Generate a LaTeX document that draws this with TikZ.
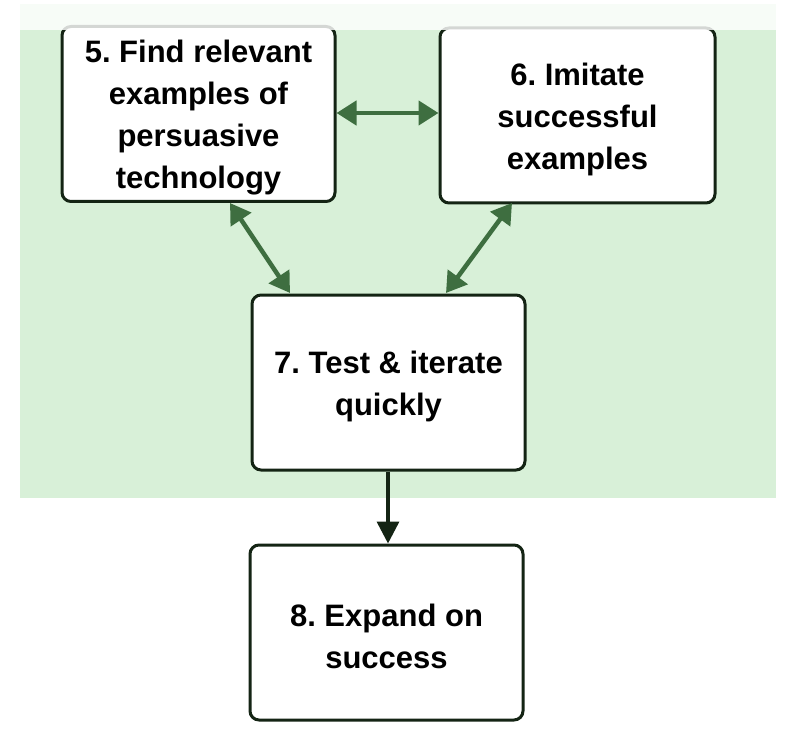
\documentclass[tikz,border=0pt]{standalone}
\usepackage{fontspec}
\setmainfont{Liberation Sans}
\frenchspacing
\usetikzlibrary{arrows.meta}
\definecolor{panel}{HTML}{D8F0D8}
\definecolor{arr}{HTML}{3E6E40}
\definecolor{edge}{HTML}{142414}
\newcommand{\topfix}{\rule{0pt}{30pt}}
\tikzset{
  stepbox/.style={draw=edge, line width=3pt, rounded corners=9pt, fill=white,
    align=center, inner sep=0pt, font=\fontsize{31}{42}\selectfont\bfseries},
  conn/.style={draw=arr, line width=4.5pt, {Triangle[length=20pt,width=24pt]}-{Triangle[length=20pt,width=24pt]}},
  oneway/.style={draw=edge, line width=3.5pt, -{Triangle[length=22pt,width=22pt]}}
}
\begin{document}
\begin{tikzpicture}[x=1pt,y=-1pt]
\useasboundingbox (0,0) rectangle (793,741);
\fill[white] (0,0) rectangle (793,741);
\fill[panel] (20,4) rectangle (776,498);
\node[stepbox, minimum width=273pt, minimum height=175pt] (b5) at (198.5,114) {\topfix5. Find relevant\\examples of\\persuasive\\technology};
\node[stepbox, minimum width=275pt, minimum height=175pt] (b6) at (577.5,115.5) {\topfix6. Imitate\\successful\\examples};
\node[stepbox, minimum width=273pt, minimum height=175pt] (b7) at (388.5,382.5) {\topfix7. Test \& iterate\\quickly};
\node[stepbox, minimum width=273pt, minimum height=175pt] (b8) at (386.5,632.5) {\topfix8. Expand on\\success};
\draw[conn] (b5.east |- 0,113) -- (b6.west |- 0,113);
\draw[conn] (230,203) coordinate (p1) -- (290,293) coordinate (p2);
\draw[conn] (512,203) coordinate (p3) -- (446,293) coordinate (p4);
\draw[oneway] (b7.south -| 388,0) -- (b8.north -| 388,0);
\fill[white, opacity=0.82] (0,0) rectangle (793,30);
\end{tikzpicture}
\end{document}
